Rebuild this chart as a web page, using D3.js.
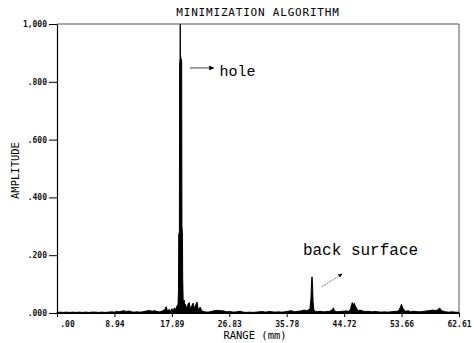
<!DOCTYPE html>
<html>
<head>
<meta charset="utf-8">
<script src="https://cdn.jsdelivr.net/npm/d3@7"></script>
<style>
  body { margin: 0; background: #fff; }
  svg { display: block; }
</style>
</head>
<body>
<script>
// data: [range (mm), amplitude]
var trace = [
  [0.0, 0.002], [0.5, 0.003], [1.0, 0.002], [1.5, 0.003], [2.0, 0.002], [2.5, 0.003],
  [3.0, 0.002], [3.5, 0.003], [4.0, 0.002], [4.5, 0.003], [5.0, 0.002], [5.5, 0.003],
  [6.0, 0.003], [6.5, 0.002], [7.0, 0.003], [7.5, 0.002], [8.0, 0.003], [8.5, 0.004],
  [9.0, 0.003], [9.3, 0.006], [9.6, 0.004], [10.0, 0.006], [10.4, 0.008], [10.8, 0.005],
  [11.2, 0.007], [11.6, 0.004], [12.0, 0.003], [12.5, 0.004], [13.0, 0.003], [13.5, 0.005],
  [14.0, 0.007], [14.4, 0.009], [14.8, 0.006], [15.2, 0.008], [15.6, 0.005], [16.0, 0.004],
  [16.4, 0.007], [16.8, 0.012], [17.0, 0.022], [17.2, 0.008], [17.5, 0.012], [17.7, 0.006],
  [17.9, 0.015], [18.1, 0.008], [18.3, 0.018], [18.5, 0.012], [18.7, 0.025], [18.85, 0.03],
  [18.92, 0.08], [18.96, 0.27], [19.06, 0.28], [19.1, 0.86], [19.16, 0.88], [19.2, 1.0],
  [19.24, 0.89], [19.32, 0.88], [19.42, 0.87], [19.46, 0.30], [19.54, 0.27], [19.58, 0.12],
  [19.64, 0.05], [19.7, 0.035], [19.8, 0.045], [19.9, 0.02], [20.0, 0.03], [20.2, 0.015],
  [20.4, 0.03], [20.6, 0.036], [20.8, 0.012], [21.0, 0.025], [21.2, 0.034], [21.4, 0.015],
  [21.6, 0.028], [21.8, 0.038], [22.0, 0.012], [22.3, 0.02], [22.6, 0.006], [23.0, 0.004],
  [23.5, 0.003], [24.0, 0.005], [24.5, 0.008], [25.0, 0.009], [25.5, 0.008], [26.0, 0.007],
  [26.5, 0.004], [27.0, 0.005], [27.5, 0.003], [28.0, 0.004], [28.5, 0.006], [29.0, 0.003],
  [29.5, 0.002], [30.0, 0.003], [30.5, 0.002], [31.0, 0.003], [31.5, 0.004], [32.0, 0.005],
  [32.5, 0.003], [33.0, 0.005], [33.5, 0.004], [34.0, 0.003], [34.5, 0.004], [35.0, 0.003],
  [35.5, 0.004], [36.0, 0.006], [36.5, 0.008], [37.0, 0.004], [37.5, 0.006], [38.0, 0.007],
  [38.5, 0.01], [38.9, 0.008], [39.2, 0.012], [39.4, 0.015], [39.55, 0.05], [39.65, 0.11],
  [39.72, 0.125], [39.8, 0.10], [39.88, 0.04], [40.0, 0.012], [40.2, 0.006], [40.5, 0.004],
  [41.0, 0.006], [41.5, 0.004], [42.0, 0.005], [42.5, 0.006], [42.9, 0.012], [43.05, 0.018],
  [43.2, 0.008], [43.6, 0.004], [44.0, 0.005], [44.5, 0.006], [45.0, 0.007], [45.4, 0.006],
  [45.7, 0.012], [45.9, 0.03], [46.0, 0.036], [46.15, 0.028], [46.3, 0.034], [46.5, 0.022],
  [46.7, 0.015], [46.9, 0.008], [47.2, 0.01], [47.6, 0.007], [48.0, 0.005], [48.5, 0.006],
  [49.0, 0.004], [49.5, 0.005], [50.0, 0.004], [50.5, 0.003], [51.0, 0.004], [51.5, 0.003],
  [52.0, 0.004], [52.5, 0.005], [53.0, 0.006], [53.3, 0.01], [53.5, 0.022], [53.65, 0.03],
  [53.8, 0.02], [54.0, 0.012], [54.3, 0.006], [54.7, 0.008], [55.1, 0.004], [55.5, 0.006],
  [56.0, 0.005], [56.5, 0.004], [57.0, 0.005], [57.5, 0.007], [58.0, 0.008], [58.5, 0.01],
  [59.0, 0.009], [59.3, 0.011], [59.6, 0.017], [59.9, 0.008], [60.2, 0.006], [60.5, 0.004],
  [61.0, 0.003], [61.5, 0.004], [62.0, 0.003], [62.61, 0.002]
];

var xTicks = [0, 8.944, 17.889, 26.833, 35.777, 44.721, 53.666, 62.61];
var xTickLabels = [".00", "8.94", "17.89", "26.83", "35.78", "44.72", "53.66", "62.61"];
var yTicks = [0, 0.2, 0.4, 0.6, 0.8, 1.0];
var yTickLabels = [".000", ".200", ".400", ".600", ".800", "1,000"];

var svgWidth = 474, svgHeight = 343;
var margin = {top: 24, right: 15, bottom: 30, left: 57},
    width = svgWidth - margin.left - margin.right,
    height = svgHeight - margin.top - margin.bottom;

var x = d3.scaleLinear().domain([0, 62.61]).range([0, width]);
var y = d3.scaleLinear().domain([0, 1]).range([height, 0]);

var svg = d3.select("body").append("svg")
    .attr("width", svgWidth)
    .attr("height", svgHeight)
  .append("g")
    .attr("transform", "translate(" + margin.left + "," + margin.top + ")");

// top and right frame (faint plotter line)
svg.append("path")
    .attr("d", "M0,0H" + width + "V" + height)
    .attr("fill", "none")
    .attr("stroke", "#555")
    .attr("stroke-width", 1);

// the trace
var area = d3.area()
    .x(function(d) { return x(d[0]); })
    .y0(y(0))
    .y1(function(d) { return y(d[1]); });

svg.append("path")
    .datum(trace)
    .attr("d", area)
    .attr("fill", "#000")
    .attr("stroke", "#000")
    .attr("stroke-width", 1);

// axes
var yAxis = svg.append("g")
    .call(d3.axisLeft(y).tickValues(yTicks).tickSize(8).tickSizeOuter(0)
      .tickFormat(function(d, i) { return yTickLabels[i]; }));

var xAxis = svg.append("g")
    .attr("transform", "translate(0," + height + ")")
    .call(d3.axisBottom(x).tickValues(xTicks).tickSize(4).tickSizeOuter(0)
      .tickFormat(function(d, i) { return xTickLabels[i]; }));

svg.selectAll(".domain").attr("stroke", "#000").attr("stroke-width", 1.2);
svg.selectAll(".tick line").attr("stroke", "#000");
svg.selectAll(".tick text")
    .attr("font-family", "DejaVu Sans Mono")
    .attr("font-size", 8)
    .attr("font-weight", "bold")
    .attr("fill", "#111");
yAxis.selectAll(".tick text").attr("x", -10);
xAxis.selectAll(".tick text").attr("y", 8);
xAxis.select(".tick text").attr("dx", 10);

// titles
svg.append("text")
    .attr("x", 201)
    .attr("y", -8)
    .attr("text-anchor", "middle")
    .attr("font-family", "DejaVu Sans Mono")
    .attr("font-size", 11)
    .attr("letter-spacing", 0.8)
    .text("MINIMIZATION ALGORITHM");

svg.append("text")
    .attr("transform", "translate(-38," + (height / 2 + 2) + ") rotate(-90)")
    .attr("text-anchor", "middle")
    .attr("font-family", "DejaVu Sans Mono")
    .attr("font-size", 10.5)
    .text("AMPLITUDE");

svg.append("text")
    .attr("x", 198)
    .attr("y", height + 26)
    .attr("text-anchor", "middle")
    .attr("font-family", "DejaVu Sans Mono")
    .attr("font-size", 10.5)
    .text("RANGE (mm)");

// annotations
var defs = svg.append("defs");
defs.append("marker")
    .attr("id", "head")
    .attr("viewBox", "0 0 10 10")
    .attr("refX", 9).attr("refY", 5)
    .attr("markerWidth", 7).attr("markerHeight", 5)
    .attr("orient", "auto")
  .append("path")
    .attr("d", "M0,0L10,5L0,10Z")
    .attr("fill", "#000");

svg.append("line")
    .attr("x1", x(20.7)).attr("y1", y(0.848))
    .attr("x2", x(24.4)).attr("y2", y(0.848))
    .attr("stroke", "#444").attr("stroke-width", 1)
    .attr("marker-end", "url(#head)");

svg.append("text")
    .attr("x", x(25.3))
    .attr("y", y(0.82))
    .attr("font-family", "Liberation Mono")
    .attr("font-size", 15)
    .text("hole");

svg.append("line")
    .attr("x1", x(41.2)).attr("y1", y(0.09))
    .attr("x2", x(44.4)).attr("y2", y(0.135))
    .attr("stroke", "#555").attr("stroke-width", 0.8)
    .attr("stroke-dasharray", "2,1")
    .attr("marker-end", "url(#head)");

svg.append("text")
    .attr("x", x(38.3))
    .attr("y", y(0.2))
    .attr("font-family", "Liberation Mono")
    .attr("font-size", 16)
    .text("back surface");
</script>
</body>
</html>
